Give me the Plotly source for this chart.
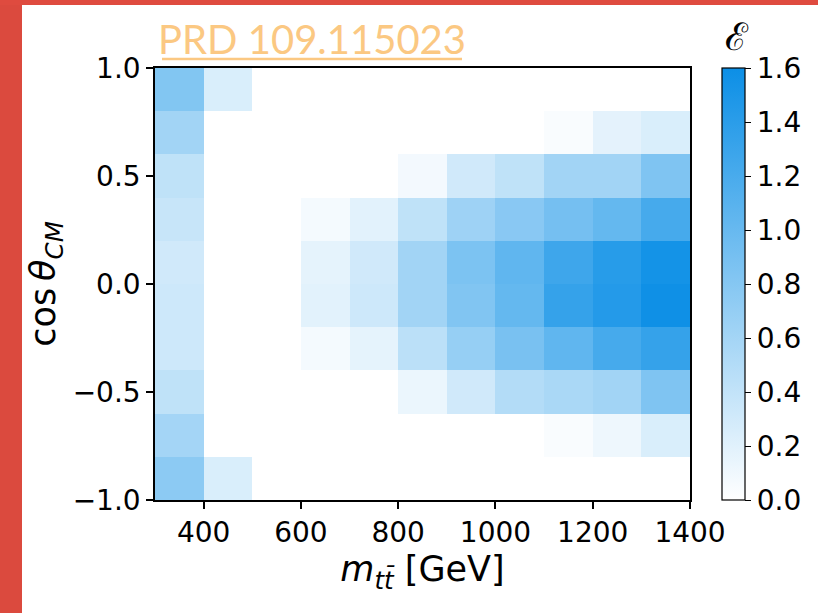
import plotly.graph_objects as go

# bin centres
m_tt = [350, 450, 550, 650, 750, 850, 950, 1050, 1150, 1250, 1350]
cos_theta = [-0.9, -0.7, -0.5, -0.3, -0.1, 0.1, 0.3, 0.5, 0.7, 0.9]

# values per cos(theta) row, bottom -> top
row_m09 = [0.76, 0.25, 0, 0, 0, 0, 0, 0, 0, 0, 0]
row_m07 = [0.60, 0, 0, 0, 0, 0, 0, 0, 0.04, 0.11, 0.25]
row_m05 = [0.42, 0, 0, 0, 0, 0.13, 0.31, 0.50, 0.56, 0.61, 0.84]
row_m03 = [0.33, 0, 0, 0.07, 0.17, 0.45, 0.69, 0.88, 1.05, 1.22, 1.33]
row_m01 = [0.33, 0, 0, 0.19, 0.33, 0.61, 0.83, 1.02, 1.33, 1.44, 1.58]
row_p01 = [0.31, 0, 0, 0.17, 0.31, 0.61, 0.86, 1.05, 1.27, 1.42, 1.55]
row_p03 = [0.37, 0, 0, 0.07, 0.19, 0.42, 0.64, 0.78, 0.91, 1.02, 1.22]
row_p05 = [0.42, 0, 0, 0, 0, 0.08, 0.31, 0.42, 0.61, 0.61, 0.84]
row_p07 = [0.61, 0, 0, 0, 0, 0, 0, 0, 0.04, 0.18, 0.25]
row_p09 = [0.82, 0.25, 0, 0, 0, 0, 0, 0, 0, 0, 0]

z = [row_m09, row_m07, row_m05, row_m03, row_m01,
     row_p01, row_p03, row_p05, row_p07, row_p09]

x_ticks = [400, 600, 800, 1000, 1200, 1400]
y_ticks = [-1.0, -0.5, 0.0, 0.5, 1.0]
cb_ticks = [0, 0.2, 0.4, 0.6, 0.8, 1.0, 1.2, 1.4, 1.6]

W, H = 818, 613
L, R, T, B = 155, 128, 68, 113
pw, ph = W - L - R, H - T - B

def px(x):
    return (x - L) / pw

def py(y):
    return 1 - (y - T) / ph

TICKFONT = dict(family="DejaVu Sans", size=28, color="black")

fig = go.Figure()
fig.add_trace(go.Heatmap(
    x=m_tt, y=cos_theta, z=z, zmin=0, zmax=1.6,
    colorscale=[[0, "#ffffff"], [1, "#0c8fe6"]],
    colorbar=dict(
        x=px(722), xanchor="left", xpad=0, y=0.5, yanchor="middle",
        len=1.0, lenmode="fraction", thickness=23, ypad=0,
        outlinewidth=1.2, outlinecolor="black",
        ticks="outside", ticklen=6, tickwidth=1.2, tickcolor="black",
        tickvals=cb_ticks, tickformat=".1f", tickfont=TICKFONT,
    ),
))

fig.update_xaxes(
    range=[300, 1400], tickvals=x_ticks, ticks="outside", ticklen=7,
    tickwidth=1.5, tickcolor="black", showline=True, linecolor="black",
    linewidth=1.5, mirror=True, showgrid=False, zeroline=False,
    tickfont=TICKFONT,
    title=dict(text="<i>m</i><sub><i>tt\u0304</i></sub> [GeV]",
               font=dict(family="DejaVu Sans", size=35, color="black"),
               standoff=6),
)
fig.update_yaxes(
    range=[-1, 1], tickvals=y_ticks, tickformat=".1f", ticks="outside",
    ticklen=7, tickwidth=1.5, tickcolor="black", showline=True,
    linecolor="black", linewidth=1.5, mirror=True, showgrid=False,
    zeroline=False, tickfont=TICKFONT,
    title=dict(text="cos\u2009<i>\u03b8</i><sub><i>CM</i></sub>",
               font=dict(family="DejaVu Sans", size=35, color="black"),
               standoff=6),
)

shapes = [
    dict(type="rect", xref="paper", yref="paper", x0=px(0), x1=px(22),
         y0=py(613), y1=py(0), fillcolor="#db4a3e", line_width=0, layer="above"),
    dict(type="rect", xref="paper", yref="paper", x0=px(0), x1=px(818),
         y0=py(5), y1=py(0), fillcolor="#df4b3f", line_width=0, layer="above"),
    dict(type="line", xref="paper", yref="paper", x0=px(162), x1=px(462),
         y0=py(59), y1=py(59), line=dict(color="#fbc882", width=2.5)),
]

annotations = [
    dict(text="PRD 109.115023", xref="paper", yref="paper", x=px(312), y=py(39),
         xanchor="center", yanchor="middle", showarrow=False,
         font=dict(family="Lato", size=40, color="#fbc882")),
    dict(text="\u2130", xref="paper", yref="paper", x=px(737), y=py(37),
         xanchor="center", yanchor="middle", showarrow=False,
         font=dict(family="DejaVu Serif", size=38, color="black")),
]

fig.update_layout(
    width=W, height=H, margin=dict(l=L, r=R, t=T, b=B, pad=0),
    paper_bgcolor="white", plot_bgcolor="white",
    shapes=shapes, annotations=annotations, showlegend=False,
)

fig.write_html("out.html")
